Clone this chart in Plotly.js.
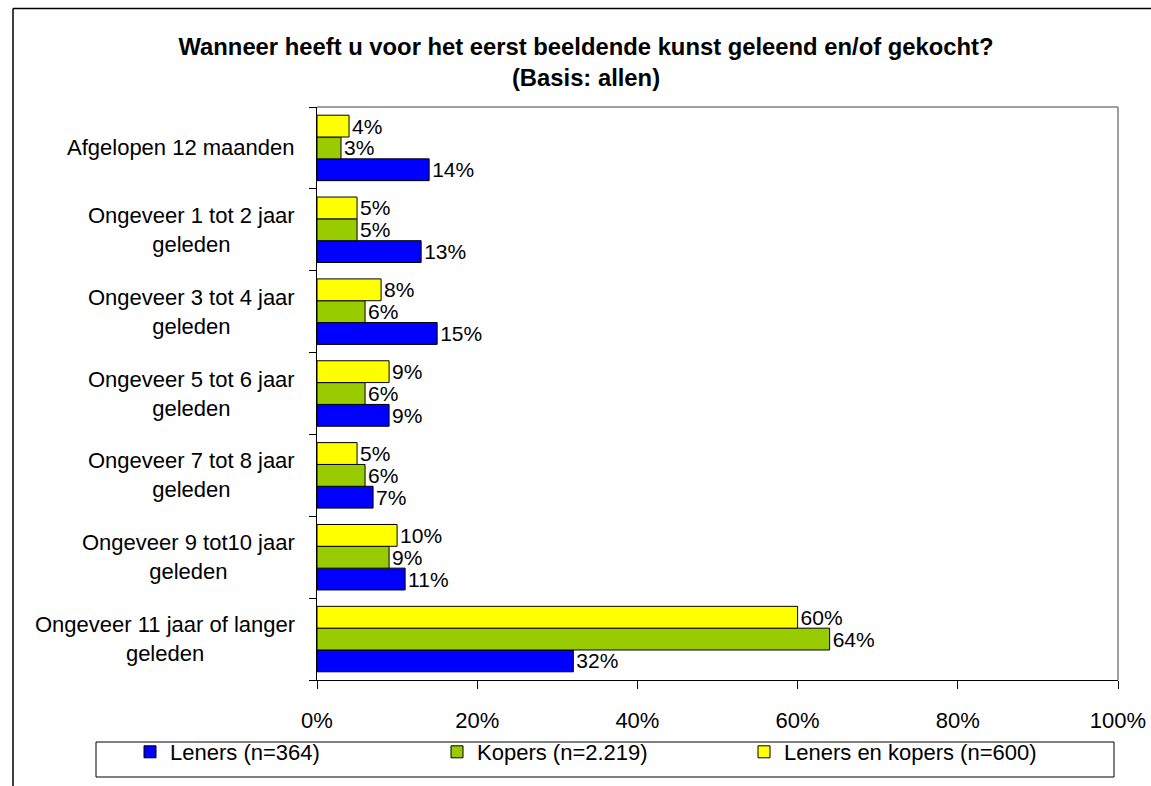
<!DOCTYPE html>
<html>
<head>
<meta charset="utf-8">
<script src="https://cdn.plot.ly/plotly-3.0.1.min.js"></script>
<style>html,body{margin:0;padding:0;background:#fff;}#chart{width:1151px;height:786px;}</style>
</head>
<body>
<div id="chart"></div>
<script>
const categories = [
  "Afgelopen 12 maanden",
  "Ongeveer 1 tot 2 jaar<br>geleden",
  "Ongeveer 3 tot 4 jaar<br>geleden",
  "Ongeveer 5 tot 6 jaar<br>geleden",
  "Ongeveer 7 tot 8 jaar<br>geleden",
  "Ongeveer 9 tot10 jaar<br>geleden",
  "Ongeveer 11 jaar of langer<br>geleden"
];
const seriesNames = ["Leners (n=364)", "Kopers (n=2.219)", "Leners en kopers (n=600)"];
const leners = [14, 13, 15, 9, 7, 11, 32];
const kopers = [3, 5, 6, 6, 6, 9, 64];
const lenersEnKopers = [4, 5, 8, 9, 5, 10, 60];
const colors = ["#0000FF", "#99CC00", "#FFFF00"];
const xTicks = [0, 20, 40, 60, 80, 100];

const W = 1151, H = 786;
const M = {l: 317, r: 33, t: 107, b: 106};
const PW = W - M.l - M.r, PH = H - M.t - M.b;
const xp = px => (px - M.l) / PW;
const yp = py => (H - M.b - py) / PH;

const font = "Liberation Sans, Arial, sans-serif";
const values = [leners, kopers, lenersEnKopers];
const traces = values.map((v, i) => ({
  type: "bar",
  orientation: "h",
  name: seriesNames[i],
  x: v,
  y: categories,
  marker: {color: colors[i], line: {color: "#000", width: 1}},
  text: v.map(d => d + "%"),
  textposition: "outside",
  constraintext: "none",
  textfont: {family: font, size: 21, color: "#000"},
  cliponaxis: false,
  hoverinfo: "skip"
}));

const annotations = categories.map(c => ({
  xref: "paper", yref: "y", x: 0, y: c,
  xanchor: "right", yanchor: "middle", xshift: -20,
  text: c, align: "center", showarrow: false,
  font: {family: font, size: 22, color: "#000"}
}));

const layout = {
  width: W, height: H,
  margin: M,
  paper_bgcolor: "#fff", plot_bgcolor: "#fff",
  title: {
    text: "<b>Wanneer heeft u voor het eerst beeldende kunst geleend en/of gekocht?<br>(Basis: allen)</b>",
    font: {family: font, size: 23.8, color: "#000"},
    x: 586 / W, xanchor: "center", xref: "container",
    y: 1 - 55 / H, yanchor: "top", yref: "container"
  },
  barmode: "group",
  bargap: 0.2,
  bargroupgap: 0,
  showlegend: true,
  legend: {
    orientation: "h",
    xref: "paper", x: xp(130), xanchor: "left",
    yref: "paper", y: yp(731), yanchor: "top",
    entrywidth: 262, entrywidthmode: "pixels",
    font: {family: font, size: 22, color: "#000"},
    bgcolor: "rgba(0,0,0,0)", borderwidth: 0,
    traceorder: "normal"
  },
  xaxis: {
    range: [0, 100], tickvals: xTicks, ticktext: xTicks.map(t => t + "%"),
    showgrid: false, zeroline: false,
    showline: true, linecolor: "#000", linewidth: 1,
    ticks: "outside", ticklen: 8, tickcolor: "#000",
    ticklabelstandoff: 13,
    tickfont: {family: font, size: 22, color: "#000"},
    automargin: false,
    fixedrange: true
  },
  yaxis: {
    type: "category",
    categoryorder: "array", categoryarray: categories.slice().reverse(),
    tickson: "boundaries",
    showticklabels: false,
    showgrid: false, zeroline: false,
    showline: true, linecolor: "#000", linewidth: 1,
    ticks: "outside", ticklen: 7, tickcolor: "#000",
    automargin: false,
    fixedrange: true
  },
  annotations: annotations,
  shapes: [
    // plot area top and right border (gray)
    {type: "line", xref: "paper", yref: "paper", x0: 0, x1: 1, y0: 1, y1: 1, line: {color: "#808080", width: 1.5}},
    {type: "line", xref: "paper", yref: "paper", x0: 1, x1: 1, y0: 0, y1: 1, line: {color: "#808080", width: 1.5}},
    // outer frame: top and left edges
    {type: "line", xref: "paper", yref: "paper", x0: xp(13), x1: xp(1160), y0: yp(8.5), y1: yp(8.5), line: {color: "#000", width: 1.5}},
    {type: "line", xref: "paper", yref: "paper", x0: xp(13), x1: xp(13), y0: yp(8.5), y1: yp(800), line: {color: "#000", width: 1.5}},
    // legend box
    {type: "rect", xref: "paper", yref: "paper", x0: xp(96), x1: xp(1114), y0: yp(742), y1: yp(777), line: {color: "#000", width: 1}, fillcolor: "rgba(0,0,0,0)", layer: "below"}
  ]
};

Plotly.newPlot("chart", traces, layout, {displayModeBar: false, staticPlot: true});
</script>
</body>
</html>
